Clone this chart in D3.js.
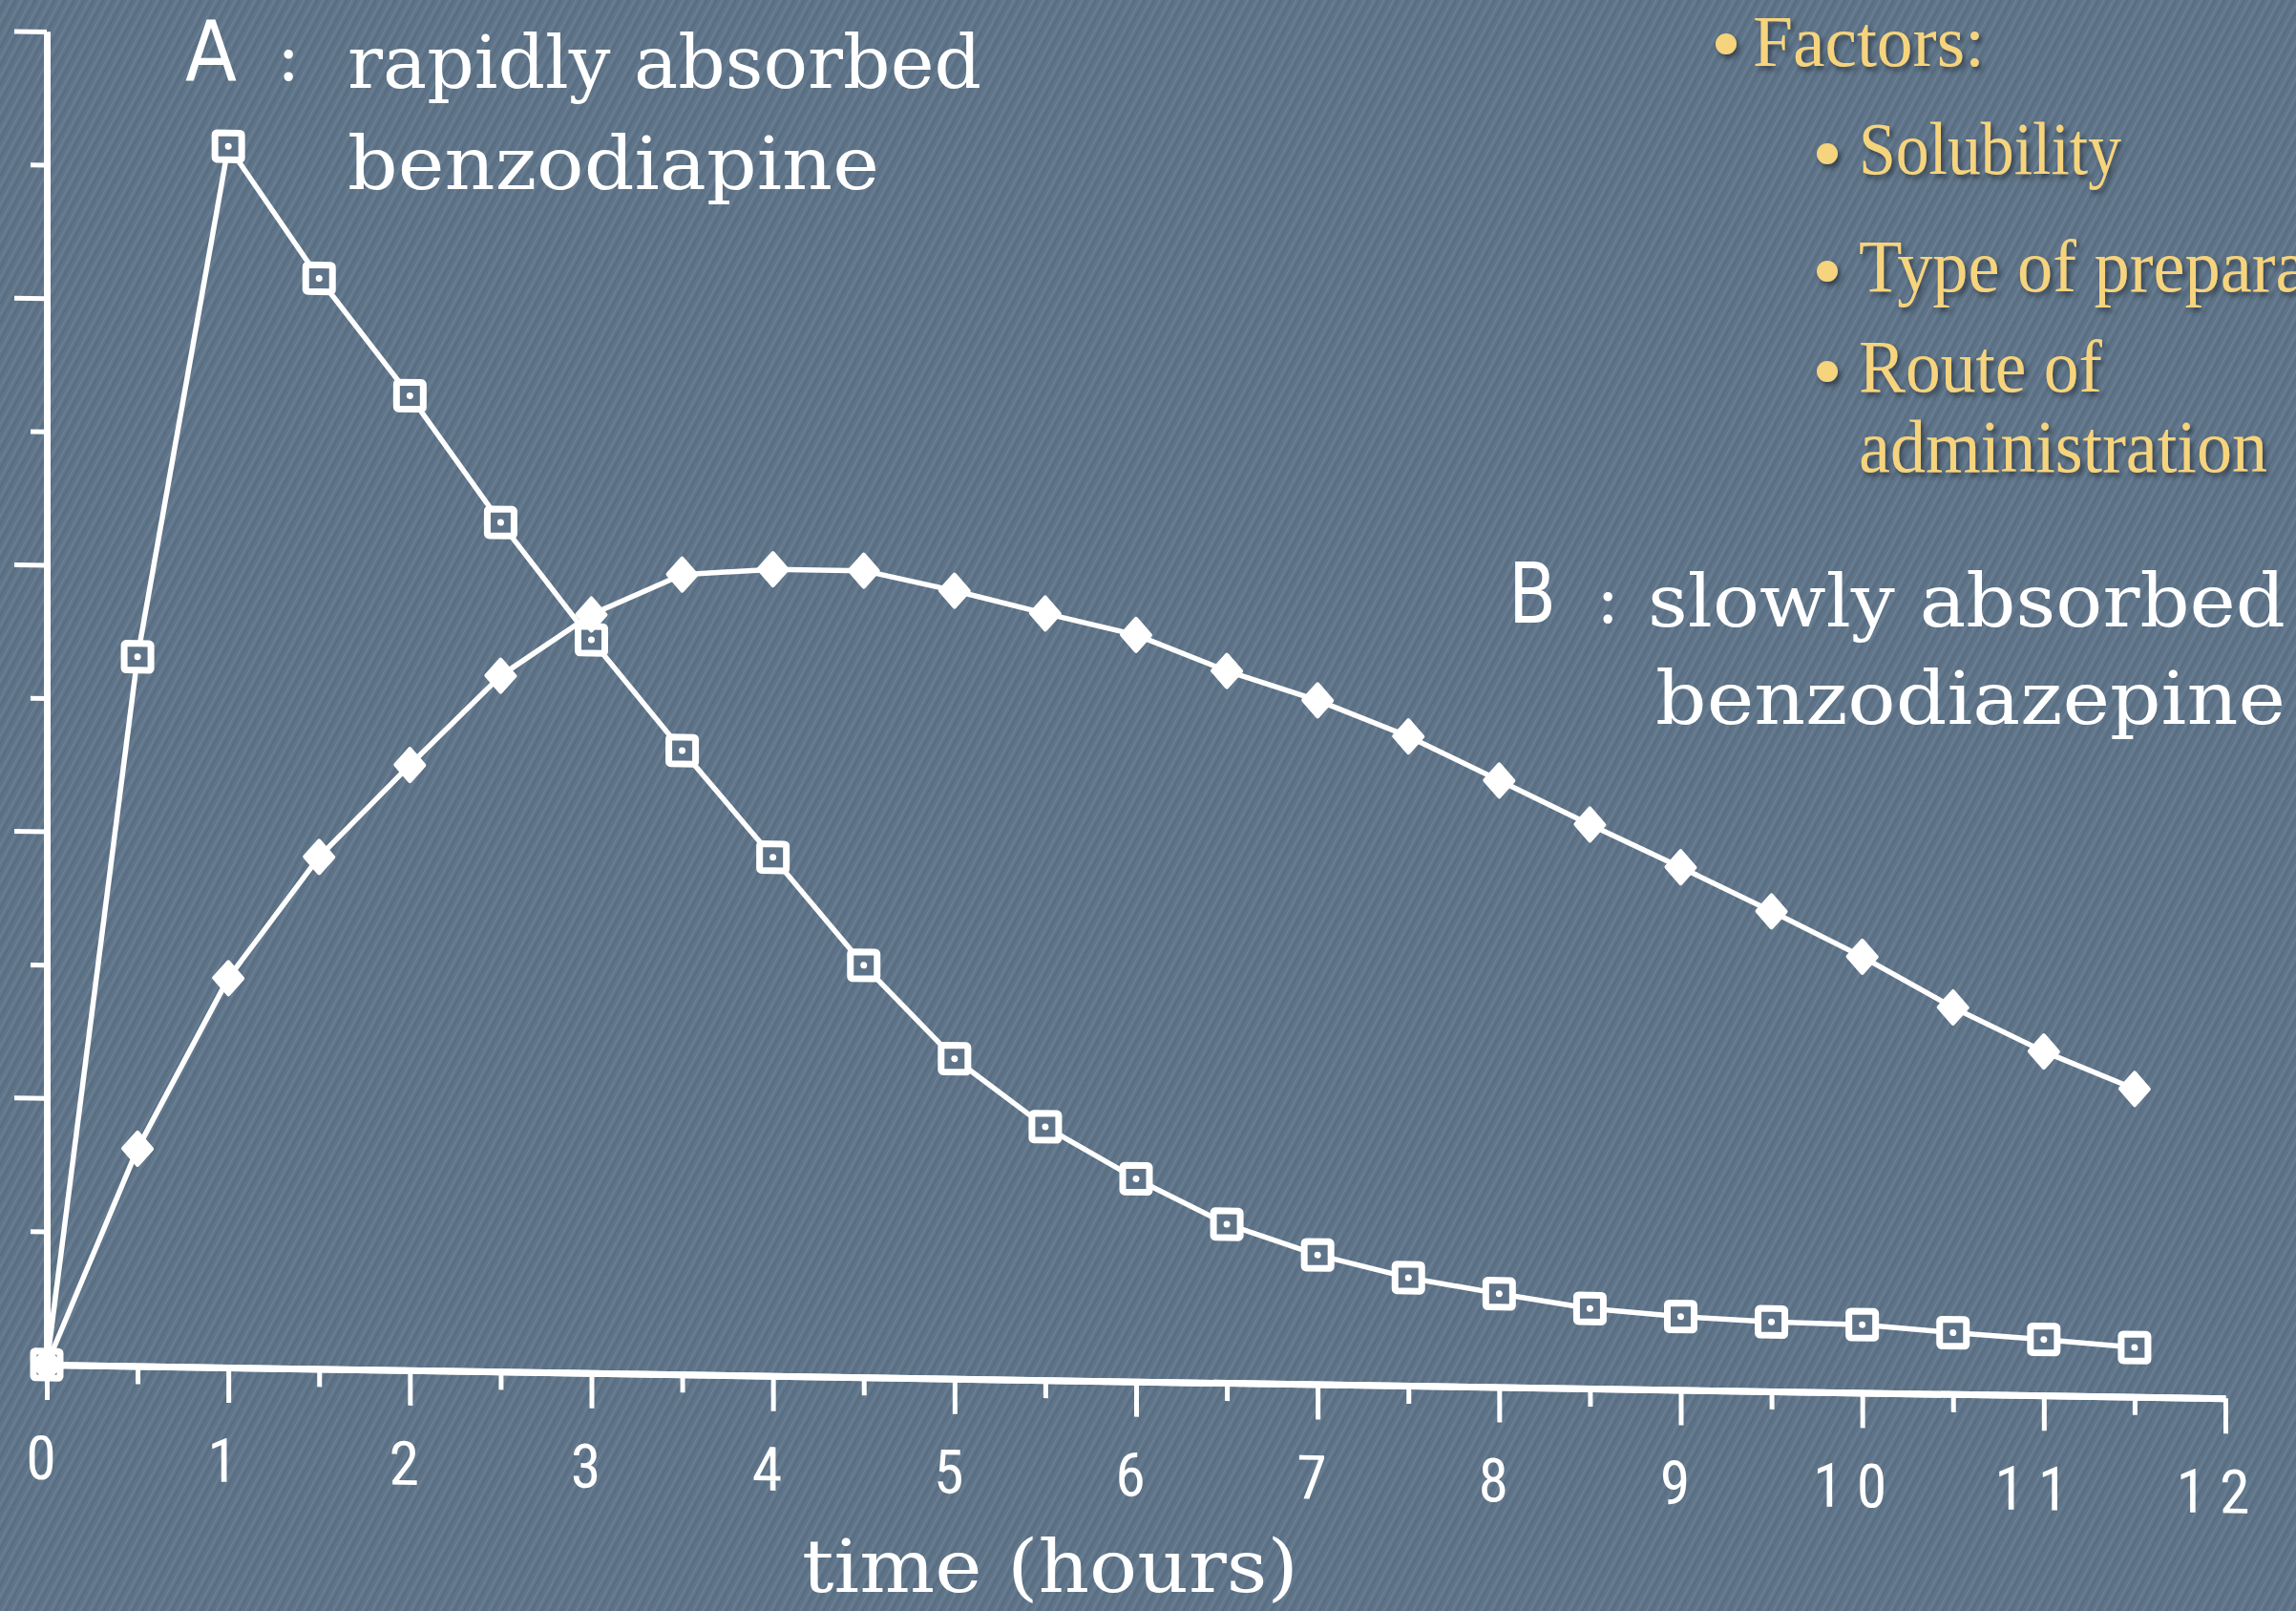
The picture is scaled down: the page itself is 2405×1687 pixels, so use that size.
<!DOCTYPE html>
<html><head><meta charset="utf-8">
<script src="https://cdn.jsdelivr.net/npm/d3@7"></script>
<style>html,body{margin:0;padding:0;background:#5f7488;overflow:hidden}svg{display:block}</style>
</head><body>
<svg id="c" width="2405" height="1687"></svg>
<script>
// ---- data ----
const hours = [0,0.5,1,1.5,2,2.5,3,3.5,4,4.5,5,5.5,6,6.5,7,7.5,8,8.5,9,9.5,10,10.5,11,11.5];
const seriesA = [0,5.32,9.16,8.18,7.31,6.37,5.50,4.68,3.89,3.09,2.40,1.90,1.52,1.19,0.97,0.81,0.70,0.60,0.55,0.52,0.51,0.46,0.42,0.37];
const seriesB = [0,1.63,2.92,3.84,4.54,5.22,5.69,6.00,6.05,6.05,5.91,5.75,5.60,5.34,5.13,4.87,4.55,4.23,3.92,3.60,3.27,2.90,2.58,2.31];
const majorTicks = [0,1,2,3,4,5,6,7,8,9,10,11,12];
const minorTicks = [0.5,1.5,2.5,3.5,4.5,5.5,6.5,7.5,8.5,9.5,10.5,11.5];
const xTickLabels = ["0","1","2","3","4","5","6","7","8","9","10","11","12"];
const yTicksLong = [2,4,6,8,10];
const yTicksShort = [1,3,5,7,9];
const xTitle = "time (hours)";
const labelA = ["A", ":", "rapidly absorbed", "benzodiapine"];
const labelB = ["B", ":", "slowly absorbed", "benzodiazepine"];
const factorHeading = "Factors:";
const factorItems = ["Solubility", "Type of preparation", "Route of"];
const factorCont = "administration";

const W = 2405, H = 1687;
const BG = "#5f7488";
const svg = d3.select("#c");
const defs = svg.append("defs");

// subtle diagonal paper texture
const pat = defs.append("pattern").attr("id","tex").attr("patternUnits","userSpaceOnUse")
  .attr("width",9).attr("height",9).attr("patternTransform","rotate(28)");
pat.append("rect").attr("x",1).attr("y",0).attr("width",1.6).attr("height",9).attr("fill","rgba(160,185,210,0.16)");
pat.append("rect").attr("x",5).attr("y",0).attr("width",1.4).attr("height",9).attr("fill","rgba(35,50,66,0.14)");

const f = defs.append("filter").attr("id","shadow").attr("x","-20%").attr("y","-30%").attr("width","140%").attr("height","160%");
f.append("feDropShadow").attr("dx",3).attr("dy",4).attr("stdDeviation",2.5)
  .attr("flood-color","#26303c").attr("flood-opacity",0.75);

svg.append("rect").attr("width",W).attr("height",H).attr("fill",BG);
svg.append("rect").attr("width",W).attr("height",H).attr("fill","url(#tex)");

// ---- plot (scanned figure is slightly sheared) ----
const skewDeg = Math.atan(0.01544) * 180 / Math.PI;
const g = svg.append("g").attr("transform", `translate(49,1429) skewY(${skewDeg})`);
const x = d3.scaleLinear().domain([0,12]).range([0,2282]);
const y = d3.scaleLinear().domain([0,10]).range([0,-1396]);

function styleAxis(sel, w){
  sel.select(".domain").attr("stroke","#fff").attr("stroke-width",w);
  sel.selectAll(".tick line").attr("stroke","#fff").attr("stroke-width",5);
}
const xMajor = g.append("g").call(d3.axisBottom(x).tickValues(majorTicks).tickSize(37).tickSizeOuter(0).tickFormat(""));
styleAxis(xMajor, 7);
const xMinor = g.append("g").call(d3.axisBottom(x).tickValues(minorTicks).tickSize(19).tickSizeOuter(0).tickFormat(""));
styleAxis(xMinor, 7);
const yLong = g.append("g").call(d3.axisLeft(y).tickValues(yTicksLong).tickSize(34).tickSizeOuter(0).tickFormat(""));
styleAxis(yLong, 7);
const yShort = g.append("g").call(d3.axisLeft(y).tickValues(yTicksShort).tickSize(17).tickSizeOuter(0).tickFormat(""));
styleAxis(yShort, 7);

g.append("g").selectAll("text").data(majorTicks).join("text")
  .attr("x", d => x(d) - 6).attr("y", 120)
  .attr("text-anchor","middle")
  .attr("font-family","'Liberation Sans Narrow','Roboto Condensed','DejaVu Sans Condensed',sans-serif")
  .attr("font-size", 64).attr("letter-spacing", d => d >= 10 ? 14 : 0)
  .attr("fill","#fff")
  .text((d,i) => xTickLabels[i]);

const line = d3.line().x((d,i) => x(hours[i])).y(d => y(d));
g.append("path").datum(seriesA).attr("d", line).attr("fill","none")
  .attr("stroke","#fff").attr("stroke-width",5.5).attr("stroke-linejoin","round");
g.append("path").datum(seriesB).attr("d", line).attr("fill","none")
  .attr("stroke","#fff").attr("stroke-width",5.5).attr("stroke-linejoin","round");

const mA = g.append("g").selectAll("g").data(seriesA).join("g")
  .attr("transform",(d,i) => `translate(${x(hours[i])},${y(d)})`);
mA.append("rect").attr("x",-14).attr("y",-14).attr("width",28).attr("height",28).attr("rx",2)
  .attr("fill",BG).attr("stroke","#fff").attr("stroke-width",7);
mA.append("circle").attr("r",3.5).attr("fill","#fff");

g.append("g").selectAll("path").data(seriesB).join("path")
  .attr("transform",(d,i) => `translate(${x(hours[i])},${y(d)})`)
  .attr("d","M0,-17L15,0L0,17L-15,0Z")
  .attr("fill","#fff").attr("stroke","#fff").attr("stroke-width",4).attr("stroke-linejoin","round");

// ---- white annotations ----
const serif = "'DejaVu Serif','Liberation Serif',serif";
const sans = "'Liberation Sans Narrow','DejaVu Sans Condensed',sans-serif";
function txt(s, xx, yy, fam, size, len){
  const t = svg.append("text").attr("x",xx).attr("y",yy).attr("font-family",fam)
    .attr("font-size",size).attr("fill","#fff").text(s);
  if (len) t.attr("textLength",len).attr("lengthAdjust","spacingAndGlyphs");
  return t;
}
txt(labelA[0], 194, 84, sans, 88, 54);
txt(labelA[1], 290, 84, serif, 72);
txt(labelA[2], 364, 92, serif, 77, 664);
txt(labelA[3], 364, 198, serif, 77, 557);
txt(labelB[0], 1580, 652, sans, 88, 50);
txt(labelB[1], 1672, 652, serif, 72);
txt(labelB[2], 1726, 656, serif, 77, 668);
txt(labelB[3], 1734, 758, serif, 77, 660);
txt(xTitle, 840, 1667, serif, 77, 520);

// ---- yellow bullet list ----
const yel = "#f6d47d";
const yg = svg.append("g").attr("filter","url(#shadow)");
function ytxt(s, xx, yy, len, size){
  yg.append("text").attr("x",xx).attr("y",yy)
    .attr("font-family","'Liberation Serif','DejaVu Serif',serif")
    .attr("font-size",size || 78).attr("fill",yel).attr("textLength",len).attr("lengthAdjust","spacingAndGlyphs").text(s);
}
function dot(cx, cy){ yg.append("circle").attr("cx",cx).attr("cy",cy).attr("r",11).attr("fill",yel); }
dot(1808, 46); ytxt(factorHeading, 1836, 69, 243, 76);
const itemY = [182, 305, 410];
const itemLen = [275, 585, 255];
factorItems.forEach((s,i) => { dot(1914, itemY[i] - 21); ytxt(s, 1947, itemY[i], itemLen[i]); });
ytxt(factorCont, 1947, 494, 428);
</script>
</body></html>
